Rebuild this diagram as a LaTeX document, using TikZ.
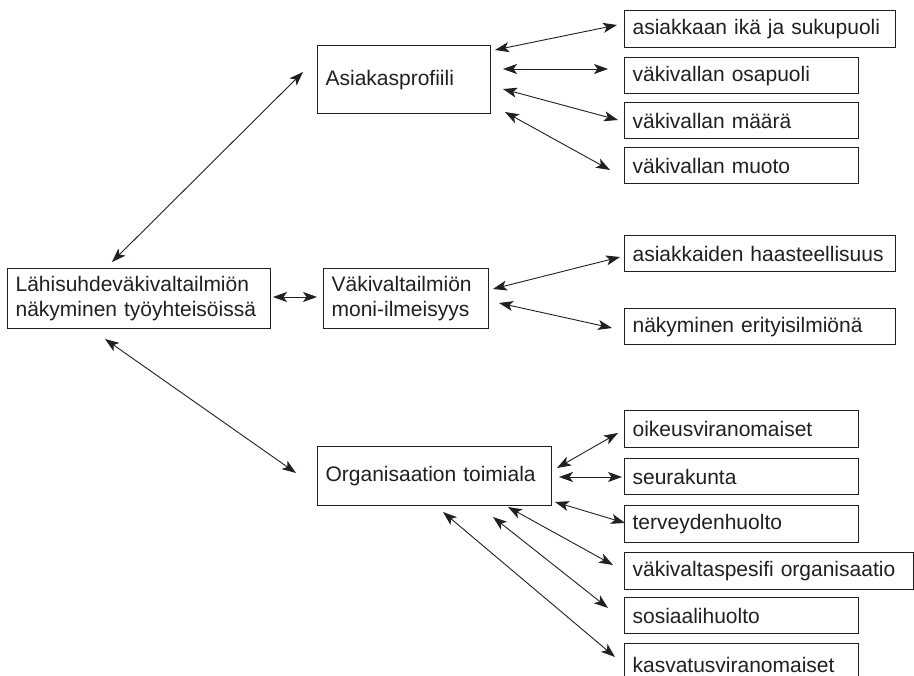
\documentclass[tikz,border=0pt]{standalone}
\usepackage{fontspec}
\setmainfont{Liberation Sans}
\usetikzlibrary{arrows.meta}
\definecolor{ink}{HTML}{231F20}
\tikzset{
  box/.style={draw=ink, text=ink, line width=1.2pt, anchor=north west, inner xsep=8pt, inner ysep=0pt,
    align=left, font=\fontsize{21}{25}\selectfont},
  conn/.style={line width=0.9pt, draw=ink,
    {Stealth[length=14pt,width=10pt,inset=3.5pt]}-{Stealth[length=14pt,width=10pt,inset=3.5pt]}}
}
\begin{document}
\begin{tikzpicture}[x=1pt,y=-1pt]
\clip (0,0) rectangle (914,676);
\fill[white] (0,0) rectangle (914,676);
% main nodes
\node[box, text width=247pt, minimum height=60pt] (main) at (7,268) {Lähisuhdeväkivaltailmiön\\näkyminen työyhteisöissä};
\node[box, text width=157pt, minimum height=68pt] (asiak) at (317,45) {Asiakasprofiili};
\node[box, text width=149pt, minimum height=60pt] (vakiv) at (323,268) {Väkivaltailmiön\\moni-ilmeisyys};
\node[box, text width=218pt, minimum height=59pt] (org) at (317,446) {Organisaation toimiala};
% right boxes
\node[box, text width=255pt, minimum height=37pt] (r1) at (624,10) {asiakkaan ikä ja sukupuoli};
\node[box, text width=218pt, minimum height=36pt] (r2) at (624,57) {väkivallan osapuoli};
\node[box, text width=218pt, minimum height=36pt] (r3) at (624,102) {väkivallan määrä};
\node[box, text width=218pt, minimum height=36pt] (r4) at (624,147) {väkivallan muoto};
\node[box, text width=255pt, minimum height=36pt] (m1) at (624,235) {asiakkaiden haasteellisuus};
\node[box, text width=255pt, minimum height=36pt] (m2) at (624,308) {näkyminen erityisilmiönä};
\node[box, text width=218pt, minimum height=37pt] (o1) at (624,410) {oikeusviranomaiset};
\node[box, text width=218pt, minimum height=36pt] (o2) at (624,458) {seurakunta};
\node[box, text width=218pt, minimum height=37pt] (o3) at (624,505) {terveydenhuolto};
\node[box, text width=273pt, minimum height=37pt] (o4) at (624,552) {väkivaltaspesifi organisaatio};
\node[box, text width=218pt, minimum height=36pt] (o5) at (624,597) {sosiaalihuolto};
\node[box, text width=218pt, minimum height=42pt] (o6) at (624,643) {kasvatusviranomaiset};
% connector end points
\coordinate (mA) at (112,262); \coordinate (aA) at (303,72);
\coordinate (mB) at (273,297); \coordinate (vB) at (317,297);
\coordinate (mC) at (105,339); \coordinate (oC) at (296,473);
\coordinate (a1) at (495,50);  \coordinate (r1e) at (617,25);
\coordinate (a2) at (503,69);  \coordinate (r2e) at (608,69);
\coordinate (a3) at (503,89);  \coordinate (r3e) at (618,120);
\coordinate (a4) at (505,112); \coordinate (r4e) at (610,170);
\coordinate (v1) at (493,289); \coordinate (m1e) at (620,257);
\coordinate (v2) at (499,303); \coordinate (m2e) at (612,328);
\coordinate (g1) at (557,468); \coordinate (o1e) at (618,433);
\coordinate (g2) at (559,477); \coordinate (o2e) at (622,477);
\coordinate (g3) at (555,502); \coordinate (o3e) at (625,523);
\coordinate (g4) at (508,507); \coordinate (o4e) at (613,565);
\coordinate (g5) at (493,517); \coordinate (o5e) at (608,608);
\coordinate (g6) at (443,512); \coordinate (o6e) at (615,657);
% connectors
\draw[conn] (mA) -- (aA);
\draw[conn] (mB) -- (vB);
\draw[conn] (mC) -- (oC);
\draw[conn] (a1) -- (r1e);
\draw[conn] (a2) -- (r2e);
\draw[conn] (a3) -- (r3e);
\draw[conn] (a4) -- (r4e);
\draw[conn] (v1) -- (m1e);
\draw[conn] (v2) -- (m2e);
\draw[conn] (g1) -- (o1e);
\draw[conn] (g2) -- (o2e);
\draw[conn] (g3) -- (o3e);
\draw[conn] (g4) -- (o4e);
\draw[conn] (g5) -- (o5e);
\draw[conn] (g6) -- (o6e);
\end{tikzpicture}
\end{document}
